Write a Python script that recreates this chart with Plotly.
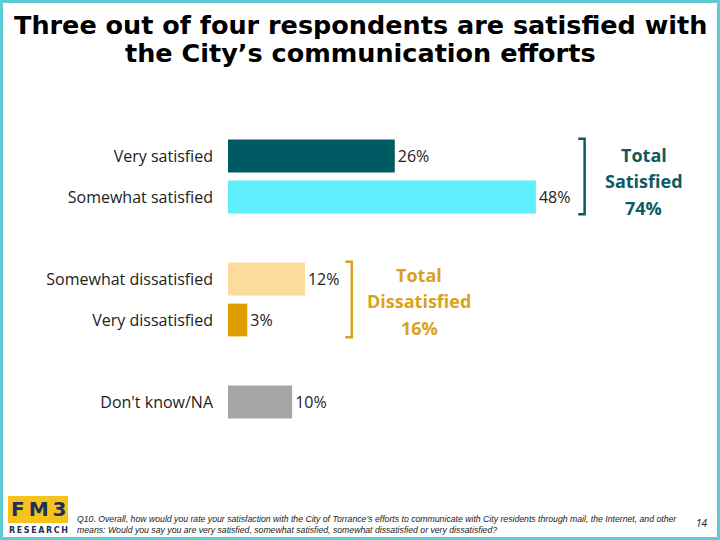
import plotly.graph_objects as go

categories = ["Very satisfied", "Somewhat satisfied", "Somewhat dissatisfied", "Very dissatisfied", "Don't know/NA"]
values = [26, 48, 12, 3, 10]
positions = [0, 1, 3, 4, 6]
colors = ["#005A64", "#5FEEFD", "#FDDC9B", "#E09D00", "#A6A6A6"]

total_labels = ["Satisfied", "Dissatisfied"]
total_values = [74, 16]

title_lines = ["Three out of four respondents are satisfied with", "the City\u2019s communication efforts"]
footnote = ("Q10. Overall, how would you rate your satisfaction with the City of Torrance\u2019s efforts to communicate with City residents through mail, the Internet, and other<br>"
            "means: Would you say you are very satisfied, somewhat satisfied, somewhat dissatisfied or very dissatisfied?")
page_number = "14"

teal_text = "#0F5A61"
gold_text = "#D9A21E"

fig = go.Figure()
fig.add_trace(go.Bar(
    x=values, y=positions, orientation="h", width=0.8,
    marker=dict(color=colors, line=dict(width=0)),
    text=[f"{v}%" for v in values], textposition="outside",
    textfont=dict(family="Open Sans", size=16, color="#222"),
    cliponaxis=False, hoverinfo="skip",
))

shapes = []
bx = 55.6
shapes.append(dict(type="path", xref="x", yref="y",
                   path=f"M {bx-1.0} -0.42 L {bx} -0.42 L {bx} 1.42 L {bx-1.0} 1.42",
                   line=dict(color=teal_text, width=2.5)))
dx = 19.3
shapes.append(dict(type="path", xref="x", yref="y",
                   path=f"M {dx-1.0} 2.58 L {dx} 2.58 L {dx} 4.42 L {dx-1.0} 4.42",
                   line=dict(color=gold_text, width=2.5)))
shapes.append(dict(type="rect", xref="paper", yref="paper", x0=0, x1=1, y0=0, y1=1,
                   line=dict(color="#5FCBD9", width=6), layer="above"))
shapes.append(dict(type="rect", xref="paper", yref="paper",
                   x0=8/720, x1=68/720, y0=1-523/540, y1=1-496/540,
                   fillcolor="#F6C21C", line=dict(width=0)))

annotations = [
    dict(text="<b>" + title_lines[0] + "</b>", xref="paper", yref="paper",
         x=0.5, y=1-25/540, xanchor="center", yanchor="middle", showarrow=False,
         font=dict(family="DejaVu Sans", size=25.5, color="#000")),
    dict(text="<b>" + title_lines[1] + "</b>", xref="paper", yref="paper",
         x=0.5, y=1-53/540, xanchor="center", yanchor="middle", showarrow=False,
         font=dict(family="DejaVu Sans", size=25.5, color="#000")),
    dict(text="<i>" + footnote + "</i>", xref="paper", yref="paper",
         x=75/720, y=1-524/540, xanchor="left", yanchor="middle", showarrow=False,
         font=dict(family="Liberation Sans", size=8.7, color="#222"), align="left"),
    dict(text="<i>" + page_number + "</i>", xref="paper", yref="paper",
         x=710/720, y=1-523/540, xanchor="right", yanchor="middle", showarrow=False,
         font=dict(family="Open Sans", size=10, color="#222")),
    dict(text="<b>F\u2009M\u20093</b>", xref="paper", yref="paper",
         x=38/720, y=1-509/540, xanchor="center", yanchor="middle", showarrow=False,
         font=dict(family="DejaVu Sans", size=20, color="#1E2F5C")),
    dict(text="<b>R\u2009E\u2009S\u2009E\u2009A\u2009R\u2009C\u2009H</b>", xref="paper", yref="paper",
         x=38/720, y=1-530/540, xanchor="center", yanchor="middle", showarrow=False,
         font=dict(family="DejaVu Sans", size=8, color="#1E2F5C")),
]

total_specs = [(64.8, 0.61, teal_text), (29.8, 3.54, gold_text)]
for (cx, cy, col), lab, tv in zip(total_specs, total_labels, total_values):
    lines = ["Total", lab, f"{tv}%"]
    for i, ln in enumerate(lines):
        annotations.append(dict(text=f"<b>{ln}</b>", xref="x", yref="y",
                                x=cx, y=cy + (i - 1) * 26.5 / 41, xanchor="center", yanchor="middle",
                                showarrow=False, font=dict(family="Open Sans", size=18, color=col)))

fig.update_layout(
    width=720, height=540, margin=dict(l=0, r=0, t=0, b=0),
    paper_bgcolor="white", plot_bgcolor="white",
    showlegend=False, shapes=shapes, annotations=annotations,
    xaxis=dict(domain=[228/720, 677/720], range=[0, 70], visible=False, fixedrange=True),
    yaxis=dict(domain=[1-443/540, 1-115/540], range=[7, -1],
               tickvals=positions, ticktext=categories, ticks="", showline=False,
               showgrid=False, zeroline=False, ticklabelstandoff=14,
               tickfont=dict(family="Open Sans", size=16, color="#222")),
)

fig.write_html("out.html")
